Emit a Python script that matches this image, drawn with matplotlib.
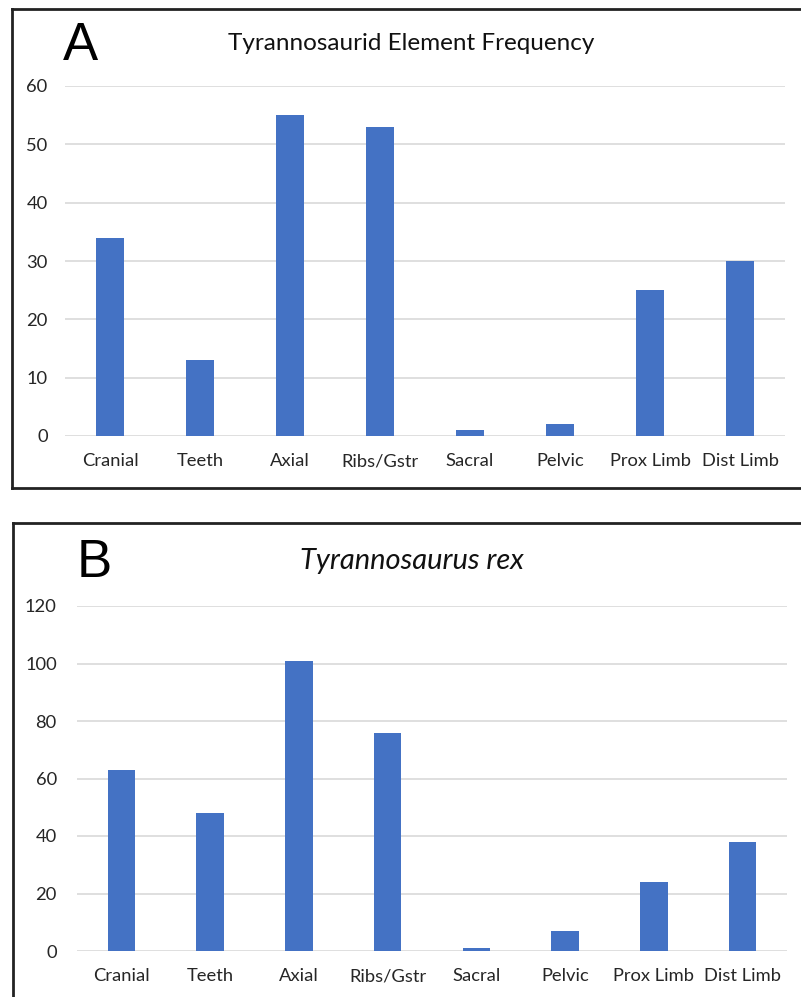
"""
Tyrannosaurid element frequency, two panels (A: all tyrannosaurids, B: T. rex).
"""
import matplotlib
matplotlib.use('Agg')
import matplotlib.pyplot as plt
from matplotlib.lines import Line2D

plt.rcParams.update({
    "font.family": ["Lato", "DejaVu Sans"],
    "font.size": 12,
})

categories = ['Cranial', 'Teeth', 'Axial', 'Ribs/Gstr', 'Sacral', 'Pelvic',
              'Prox Limb', 'Dist Limb']
counts_a = [34, 13, 55, 53, 1, 2, 25, 30]
counts_b = [63, 48, 101, 76, 1, 7, 24, 38]
yticks_a = [0, 10, 20, 30, 40, 50, 60]
yticks_b = [0, 20, 40, 60, 80, 100, 120]

W, H = 801, 997
BLUE = '#4472C4'
GRID = '#D9D9D9'


def px_axes(fig, left, top, right, bottom):
    return fig.add_axes([left / W, 1 - bottom / H, (right - left) / W,
                         (bottom - top) / H])


def fig_line(fig, x0, y0, x1, y1, lw=2.0):
    fig.add_artist(Line2D([x0 / W, x1 / W], [1 - y0 / H, 1 - y1 / H],
                          transform=fig.transFigure, color='#222222', lw=lw))


def panel(ax, values, yticks, ypad):
    x = range(len(categories))
    ax.bar(x, values, width=0.31, color=BLUE, zorder=2)
    ax.set_xlim(-0.5, len(categories) - 0.5)
    ax.set_ylim(yticks[0], yticks[-1])
    ax.set_yticks(yticks)
    ax.set_xticks(list(x))
    ax.set_xticklabels(categories, fontsize=13.2, color='#262626')
    ax.tick_params(axis='both', length=0)
    ax.tick_params(axis='y', pad=ypad, labelsize=13.2, labelcolor='#262626')
    ax.tick_params(axis='x', pad=12.5)
    ax.grid(axis='y', color=GRID, lw=1.2, zorder=0)
    ax.set_axisbelow(True)
    for s in ax.spines.values():
        s.set_visible(False)
    ax.patch.set_alpha(0)


def main():
    fig = plt.figure(figsize=(W / 100, H / 100), dpi=100)

    # panel A
    ax1 = px_axes(fig, 65, 86, 785, 436)
    panel(ax1, counts_a, yticks_a, 12.5)
    fig.text(411 / W, 1 - 43 / H, 'Tyrannosaurid Element Frequency',
             ha='center', va='center', fontsize=17.5, color='#111111')
    fig.text(63 / W, 1 - 46 / H, 'A', ha='left', va='center', fontsize=38,
             family='Liberation Sans')
    fig_line(fig, 12, 9, 12, 488)
    fig_line(fig, 12, 9, 801, 9)
    fig_line(fig, 12, 488, 801, 488)

    # panel B
    ax2 = px_axes(fig, 77, 606, 787, 951)
    panel(ax2, counts_b, yticks_b, 14.5)
    fig.text(412 / W, 1 - 561 / H, 'Tyrannosaurus rex', ha='center',
             va='center', fontsize=21, style='italic', color='#111111')
    fig.text(77 / W, 1 - 563 / H, 'B', ha='left', va='center', fontsize=38,
             family='Liberation Sans')
    fig_line(fig, 13, 523, 13, 997)
    fig_line(fig, 13, 523, 801, 523)

    fig.savefig('out.png', dpi=100)
    plt.close(fig)


if __name__ == '__main__':
    main()
